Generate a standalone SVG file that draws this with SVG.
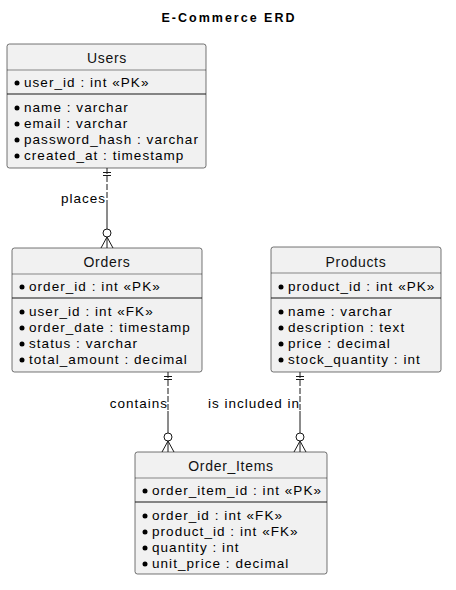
<svg xmlns="http://www.w3.org/2000/svg" width="456" height="590" viewBox="0 0 456 590">
<style>
.box{fill:#F1F1F1;stroke:#181818;stroke-width:0.6}
.hl{stroke:#181818;stroke-width:0.5}
.sl{stroke:#181818;stroke-width:1.1}
.t{font-family:"Liberation Sans",Arial,sans-serif;font-size:13.5px;letter-spacing:1.05px;fill:#000}
.h{font-family:"Liberation Sans",Arial,sans-serif;font-size:14px;letter-spacing:0.7px;fill:#111;text-anchor:middle}
.title{font-family:"Liberation Sans",Arial,sans-serif;font-size:12.5px;font-weight:bold;letter-spacing:2px;fill:#000;text-anchor:middle}
.lbl{font-family:"Liberation Sans",Arial,sans-serif;font-size:13.5px;letter-spacing:1px;fill:#000;text-anchor:end}
.b{fill:#000}
.dash{stroke:#181818;stroke-width:1;fill:none;stroke-dasharray:6,2}
.solid{stroke:#181818;stroke-width:1;fill:none}
.circ{fill:#fff;stroke:#181818;stroke-width:1}
</style>
<text class="title" x="229" y="22">E-Commerce ERD</text>

<g id="Users">
<rect class="box" x="7" y="44" width="199" height="124" rx="2.5"/>
<line class="hl" x1="7" y1="70" x2="206" y2="70"/>
<line class="sl" x1="7" y1="94" x2="206" y2="94"/>
<text class="h" x="107" y="63">Users</text>
<circle class="b" cx="17" cy="83" r="2.5"/><text class="t" x="24" y="87">user_id : int «PK»</text>
<circle class="b" cx="17" cy="108" r="2.5"/><text class="t" x="24" y="112">name : varchar</text>
<circle class="b" cx="17" cy="124" r="2.5"/><text class="t" x="24" y="128">email : varchar</text>
<circle class="b" cx="17" cy="140" r="2.5"/><text class="t" x="24" y="144">password_hash : varchar</text>
<circle class="b" cx="17" cy="156" r="2.5"/><text class="t" x="24" y="160">created_at : timestamp</text>
</g>

<g id="Orders">
<rect class="box" x="12" y="248" width="190" height="124" rx="2.5"/>
<line class="hl" x1="12" y1="274" x2="202" y2="274"/>
<line class="sl" x1="12" y1="298" x2="202" y2="298"/>
<text class="h" x="107" y="267">Orders</text>
<circle class="b" cx="22" cy="287" r="2.5"/><text class="t" x="29" y="291">order_id : int «PK»</text>
<circle class="b" cx="22" cy="312" r="2.5"/><text class="t" x="29" y="316">user_id : int «FK»</text>
<circle class="b" cx="22" cy="328" r="2.5"/><text class="t" x="29" y="332">order_date : timestamp</text>
<circle class="b" cx="22" cy="344" r="2.5"/><text class="t" x="29" y="348">status : varchar</text>
<circle class="b" cx="22" cy="360" r="2.5"/><text class="t" x="29" y="364">total_amount : decimal</text>
</g>

<g id="Products">
<rect class="box" x="271" y="247" width="170" height="125" rx="2.5"/>
<line class="hl" x1="271" y1="273" x2="441" y2="273"/>
<line class="sl" x1="271" y1="298" x2="441" y2="298"/>
<text class="h" x="356" y="267">Products</text>
<circle class="b" cx="281" cy="287" r="2.5"/><text class="t" x="288" y="291">product_id : int «PK»</text>
<circle class="b" cx="281" cy="312" r="2.5"/><text class="t" x="288" y="316">name : varchar</text>
<circle class="b" cx="281" cy="328" r="2.5"/><text class="t" x="288" y="332">description : text</text>
<circle class="b" cx="281" cy="344" r="2.5"/><text class="t" x="288" y="348">price : decimal</text>
<circle class="b" cx="281" cy="360" r="2.5"/><text class="t" x="288" y="364">stock_quantity : int</text>
</g>

<g id="Order_Items">
<rect class="box" x="135" y="452" width="192" height="122" rx="2.5"/>
<line class="hl" x1="135" y1="478" x2="327" y2="478"/>
<line class="sl" x1="135" y1="502" x2="327" y2="502"/>
<text class="h" x="231" y="471">Order_Items</text>
<circle class="b" cx="145" cy="491" r="2.5"/><text class="t" x="152" y="495">order_item_id : int «PK»</text>
<circle class="b" cx="145" cy="516" r="2.5"/><text class="t" x="152" y="520">order_id : int «FK»</text>
<circle class="b" cx="145" cy="532" r="2.5"/><text class="t" x="152" y="536">product_id : int «FK»</text>
<circle class="b" cx="145" cy="548" r="2.5"/><text class="t" x="152" y="552">quantity : int</text>
<circle class="b" cx="145" cy="564" r="2.5"/><text class="t" x="152" y="568">unit_price : decimal</text>
</g>

<g id="connectors">
<!-- Users - Orders -->
<line class="dash" x1="107" y1="168" x2="107" y2="206"/>
<line class="solid" x1="107" y1="206" x2="107" y2="229"/>
<line class="solid" x1="103" y1="172.5" x2="111" y2="172.5"/>
<line class="solid" x1="103" y1="175.5" x2="111" y2="175.5"/>
<circle class="circ" cx="107" cy="233" r="4"/>
<path class="solid" d="M107 237 L101 248 M107 237 L107 248 M107 237 L113 248"/>
<text class="lbl" x="106" y="203">places</text>

<!-- Orders - Order_Items -->
<line class="dash" x1="168" y1="372" x2="168" y2="411"/>
<line class="solid" x1="168" y1="411" x2="168" y2="433"/>
<line class="solid" x1="164" y1="376.5" x2="172" y2="376.5"/>
<line class="solid" x1="164" y1="379.5" x2="172" y2="379.5"/>
<circle class="circ" cx="168" cy="437" r="4"/>
<path class="solid" d="M168 441 L162 452 M168 441 L168 452 M168 441 L174 452"/>
<text class="lbl" x="168" y="408">contains</text>

<!-- Products - Order_Items -->
<line class="dash" x1="300" y1="372" x2="300" y2="411"/>
<line class="solid" x1="300" y1="411" x2="300" y2="433"/>
<line class="solid" x1="296" y1="376.5" x2="304" y2="376.5"/>
<line class="solid" x1="296" y1="379.5" x2="304" y2="379.5"/>
<circle class="circ" cx="300" cy="437" r="4"/>
<path class="solid" d="M300 441 L294 452 M300 441 L300 452 M300 441 L306 452"/>
<text class="lbl" x="300" y="408">is included in</text>
</g>
</svg>
